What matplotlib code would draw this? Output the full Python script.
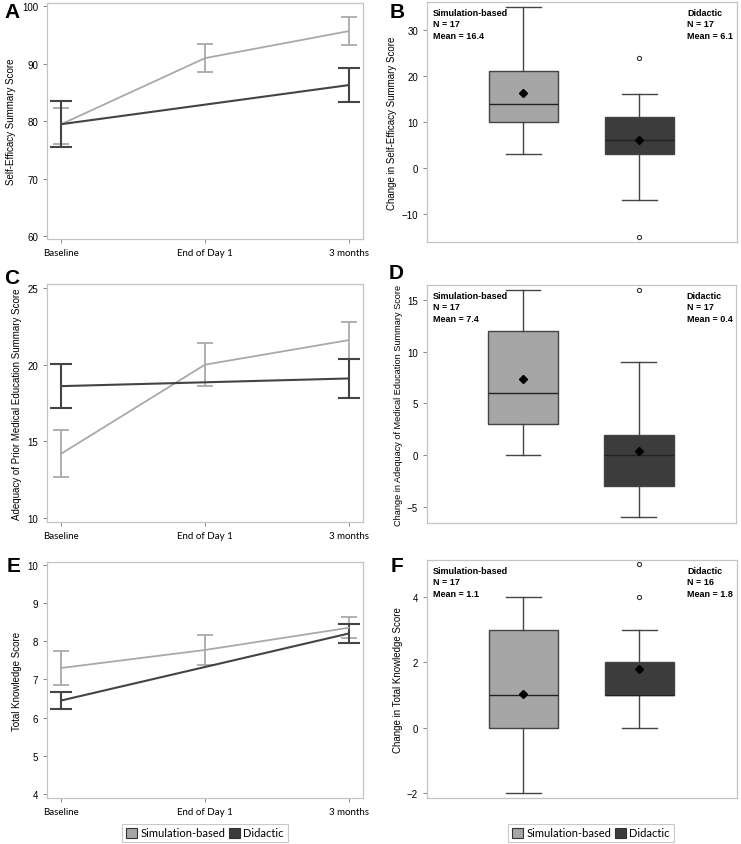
import matplotlib
matplotlib.use("Agg")
import matplotlib.pyplot as plt
from matplotlib.patches import Patch

# ---- data ----
timepoints = ["Baseline", "End of Day 1", "3 months"]
groups = ["Simulation-based", "Didactic"]

# line panels: mean, lower and upper ends of the error bars
# simulation group has all three time points, didactic only baseline and 3 months
se_sim_mean = [79.5, 91.0, 95.7]
se_sim_lo = [76.1, 88.5, 93.3]
se_sim_hi = [82.4, 93.5, 98.1]
se_did_mean = [79.5, 86.3]
se_did_lo = [75.5, 83.4]
se_did_hi = [83.5, 89.3]

pme_sim_mean = [14.2, 20.0, 21.6]
pme_sim_lo = [12.65, 18.6, 20.4]
pme_sim_hi = [15.75, 21.4, 22.8]
pme_did_mean = [18.6, 19.1]
pme_did_lo = [17.2, 17.8]
pme_did_hi = [20.05, 20.4]

tk_sim_mean = [7.3, 7.77, 8.35]
tk_sim_lo = [6.85, 7.38, 8.07]
tk_sim_hi = [7.75, 8.15, 8.63]
tk_did_mean = [6.45, 8.2]
tk_did_lo = [6.22, 7.95]
tk_did_hi = [6.68, 8.45]

# box panels: whislo, q1, med, q3, whishi, mean, outliers, N
se_chg_sim = [3, 10, 14, 21, 35, 16.4, [], 17]
se_chg_did = [-7, 3, 6, 11, 16, 6.1, [24, -15], 17]
pme_chg_sim = [0, 3, 6, 12, 16, 7.4, [], 17]
pme_chg_did = [-6, -3, 0, 2, 9, 0.4, [16], 17]
tk_chg_sim = [-2, 0, 1, 3, 4, 1.05, [], 17]
tk_chg_did = [0, 1, 1, 2, 3, 1.8, [5, 4], 16]

SIM_LINE = "#a9a9a9"
DID_LINE = "#444444"
SIM_FILL = "#a6a6a6"
DID_FILL = "#3c3c3c"
FRAME = "#c4c4c4"

W, H = 741, 845
fig = plt.figure(figsize=(W / 100, H / 100), dpi=100)
plt.rcParams["font.family"] = ["Liberation Sans", "DejaVu Sans"]


def px_axes(x0, y0, x1, y1):
    return fig.add_axes([x0 / W, 1 - y1 / H, (x1 - x0) / W, (y1 - y0) / H])


def style_frame(ax):
    for s in ax.spines.values():
        s.set_color(FRAME)
        s.set_linewidth(0.9)
    ax.tick_params(axis="both", colors="#888888", labelcolor="black",
                   labelsize=7, length=3, width=0.7)


def line_panel(ax, sim_mean, sim_lo, sim_hi, did_mean, did_lo, did_hi,
               ylim, yticks, ylabel):
    x_sim = [0, 1, 2]
    x_did = [0, 2]
    for x, m, lo, hi, col, cap, lw in [
        (x_sim, sim_mean, sim_lo, sim_hi, SIM_LINE, 6.0, 1.3),
        (x_did, did_mean, did_lo, did_hi, DID_LINE, 8.0, 1.5),
    ]:
        yerr = [[mm - l for mm, l in zip(m, lo)], [h - mm for mm, h in zip(m, hi)]]
        ax.errorbar(x, m, yerr=yerr, color=col, lw=lw, capsize=cap,
                    capthick=lw, elinewidth=lw)
    ax.set_xlim(-0.1, 2.1)
    ax.set_ylim(*ylim)
    ax.set_yticks(yticks)
    ax.set_xticks([0, 1, 2])
    ax.set_xticklabels(timepoints, fontsize=8, family=["Lato", "DejaVu Sans"])
    ax.set_ylabel(ylabel, fontsize=7)
    style_frame(ax)


def box_panel(ax, sim, did, ylim, yticks, ylabel, ylabel_size=7):
    stats = []
    for g, name in zip([sim, did], groups):
        stats.append(dict(whislo=g[0], q1=g[1], med=g[2], q3=g[3], whishi=g[4],
                          mean=g[5], fliers=g[6], label=name))
    bp = ax.bxp(stats, positions=[0, 1], widths=0.6, patch_artist=True,
                showmeans=True, showcaps=True,
                meanprops=dict(marker="D", markerfacecolor="black",
                               markeredgecolor="black", markersize=4),
                medianprops=dict(color="#222222", lw=1.0),
                whiskerprops=dict(color="#444444", lw=1.0),
                capprops=dict(color="#444444", lw=1.0),
                flierprops=dict(marker="o", markerfacecolor="white",
                                markeredgecolor="#333333", markersize=3,
                                markeredgewidth=0.8),
                boxprops=dict(edgecolor="#444444", lw=1.0))
    for patch, col in zip(bp["boxes"], [SIM_FILL, DID_FILL]):
        patch.set_facecolor(col)
    for cap in bp["caps"]:
        xd = cap.get_xdata()
        c = (xd[0] + xd[1]) / 2
        cap.set_xdata([c - 0.15, c + 0.15])
    ax.set_xlim(-0.83, 1.84)
    ax.set_ylim(*ylim)
    ax.set_yticks(yticks)
    ax.set_xticks([])
    ax.set_ylabel(ylabel, fontsize=ylabel_size, labelpad=3)
    style_frame(ax)
    ax.text(0.018, 0.975, "%s\nN = %d\nMean = %.1f" % (groups[0], sim[7], sim[5]),
            transform=ax.transAxes, ha="left", va="top", fontsize=6.5,
            fontweight="bold", linespacing=1.35)
    ax.text(0.84, 0.975, "%s\nN = %d\nMean = %.1f" % (groups[1], did[7], did[5]),
            transform=ax.transAxes, ha="left", va="top", fontsize=6.5,
            fontweight="bold", linespacing=1.35)


axA = px_axes(47, 4, 363, 240)
line_panel(axA, se_sim_mean, se_sim_lo, se_sim_hi, se_did_mean, se_did_lo, se_did_hi,
           (59.5, 100.6), [60, 70, 80, 90, 100], "Self-Efficacy Summary Score")

axB = px_axes(427, 3, 737, 243)
box_panel(axB, se_chg_sim, se_chg_did, (-16.1, 36.1), [-10, 0, 10, 20, 30],
          "Change in Self-Efficacy Summary Score")

axC = px_axes(47, 285, 363, 523)
line_panel(axC, pme_sim_mean, pme_sim_lo, pme_sim_hi, pme_did_mean, pme_did_lo, pme_did_hi,
           (9.74, 25.26), [10, 15, 20, 25],
           "Adequacy of Prior Medical Education Summary Score")

axD = px_axes(427, 286, 736, 524)
box_panel(axD, pme_chg_sim, pme_chg_did, (-6.55, 16.45), [-5, 0, 5, 10, 15],
          "Change in Adequacy of Medical Education Summary Score", ylabel_size=6.6)

axE = px_axes(47, 563, 363, 799)
line_panel(axE, tk_sim_mean, tk_sim_lo, tk_sim_hi, tk_did_mean, tk_did_lo, tk_did_hi,
           (3.9, 10.07), [4, 5, 6, 7, 8, 9, 10], "Total Knowledge Score")

axF = px_axes(427, 561, 737, 799)
box_panel(axF, tk_chg_sim, tk_chg_did, (-2.14, 5.13), [-2, 0, 2, 4],
          "Change in Total Knowledge Score")

# panel letters
for lbl, x, y in [("A", 12, 12), ("B", 397, 12), ("C", 12, 279), ("D", 396, 274),
                  ("E", 14, 566), ("F", 397, 566)]:
    fig.text(x / W, 1 - y / H, lbl, fontsize=15, fontweight="bold",
             ha="center", va="center")

# legends
handles = [Patch(facecolor=SIM_FILL, edgecolor="#333333", lw=0.8, label=groups[0]),
           Patch(facecolor=DID_FILL, edgecolor="#333333", lw=0.8, label=groups[1])]
for cx in [205, 591]:
    leg = fig.legend(handles=handles, ncol=2, loc="center",
                     bbox_to_anchor=(cx / W, 1 - 834 / H),
                     frameon=True, fancybox=False, handlelength=1.0,
                     handleheight=1.0, handletextpad=0.3, columnspacing=0.3,
                     borderpad=0.35, prop={"family": ["Lato", "DejaVu Sans"], "size": 8})
    leg.get_frame().set_edgecolor("#bbbbbb")
    leg.get_frame().set_linewidth(0.8)

fig.savefig("out.png", dpi=100)
